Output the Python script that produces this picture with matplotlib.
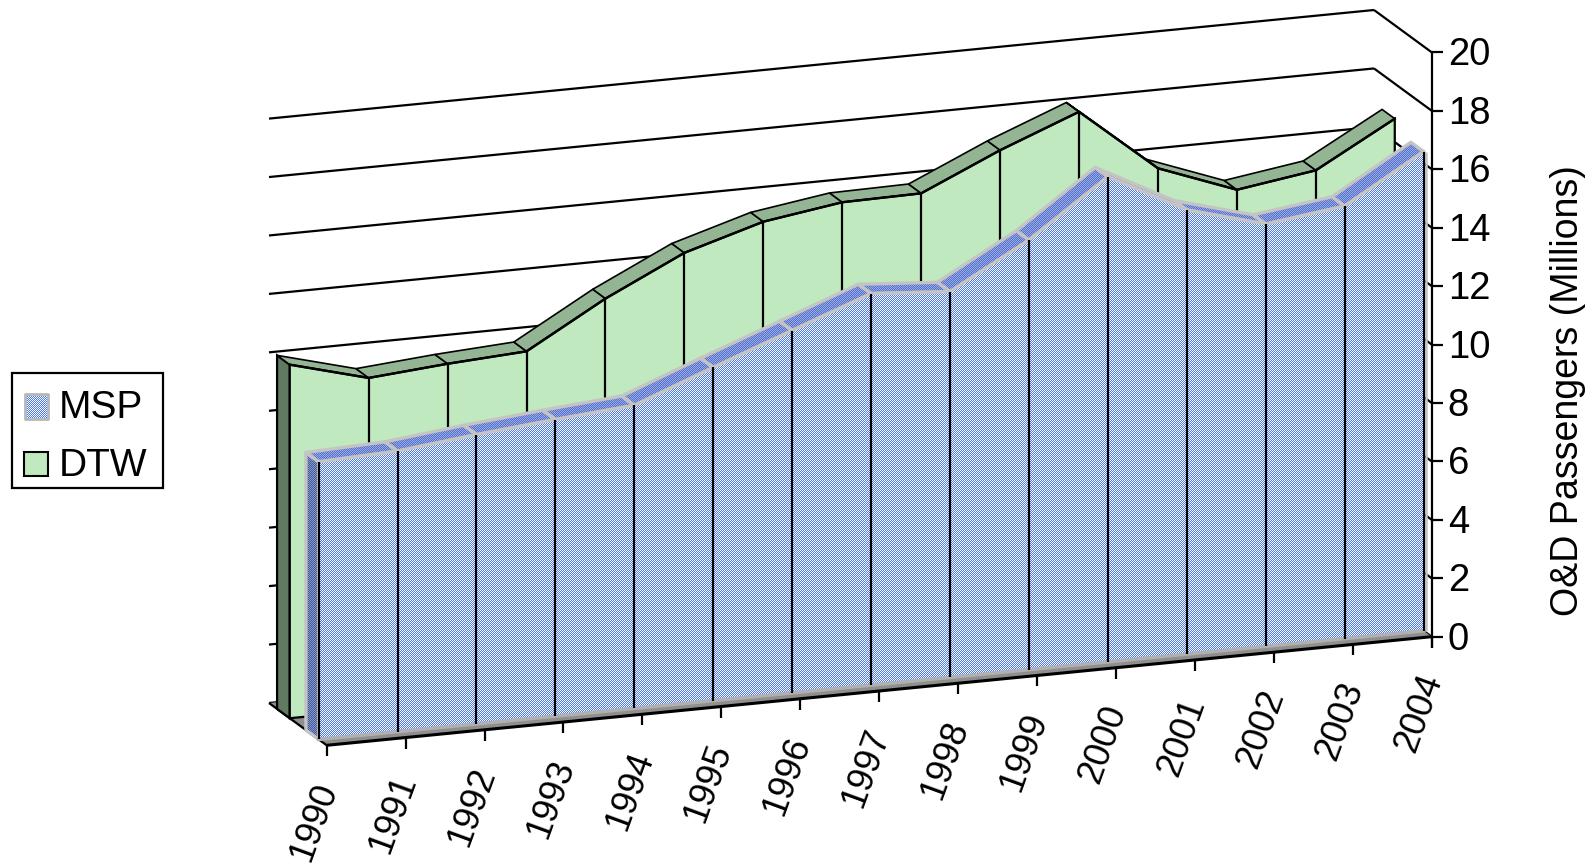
import numpy as np
import matplotlib
matplotlib.use("Agg")
import matplotlib.pyplot as plt
from matplotlib.patches import Polygon, Rectangle

plt.rcParams['font.family'] = ['Liberation Sans', 'DejaVu Sans']

years = [1990, 1991, 1992, 1993, 1994, 1995, 1996, 1997, 1998, 1999, 2000, 2001, 2002, 2003, 2004]
msp = [9.5, 9.6, 9.9, 10.15, 10.37, 11.4, 12.4, 13.4, 13.2, 14.7, 16.6, 15.2, 14.45, 14.8, 16.4]
dtw = [12.1, 11.38, 11.6, 11.76, 13.3, 14.6, 15.4, 15.8, 15.84, 17.05, 18.1, 15.9, 14.9, 15.3, 16.8]
y_ticks = [0, 2, 4, 6, 8, 10, 12, 14, 16, 18, 20]
series_names = ['MSP', 'DTW']
y_label = 'O&D Passengers (Millions)'

W, H = 1591, 866
fig = plt.figure(figsize=(W / 100, H / 100), dpi=100, facecolor='white')
ax = fig.add_axes([0, 0, 1, 1])
ax.set_xlim(0, W)
ax.set_ylim(H, 0)
ax.axis('off')

# oblique projection of the chart box: category, value, depth (0 = front, 1 = back)
X0, Y0 = 326.7, 745.3
CX, CY = (1431.7 - 326.7) / 14, (636.7 - 745.3) / 14
UNIT = (636.7 - 52.3) / 20
DX, DY = 57.7, 42.3


def proj(i, v, d):
    return (X0 + CX * i - DX * d, Y0 + CY * i - UNIT * v - DY * d)


yy, xx = np.mgrid[0:H, 0:W]
checker = (xx + yy + 1) % 2


def hex_rgb(c):
    return np.array(matplotlib.colors.to_rgb(c))


def checker_fill(points, c1, c2, z, edge=None, lw=0):
    img = np.where(checker[..., None] == 0, hex_rgb(c1), hex_rgb(c2))
    poly = Polygon(points, closed=True, transform=ax.transData, facecolor='none', edgecolor='none')
    ax.add_patch(poly)
    im = ax.imshow(img, extent=(0, W, H, 0), interpolation='nearest', zorder=z, aspect='auto')
    im.set_clip_path(poly)
    ax.set_xlim(0, W)
    ax.set_ylim(H, 0)
    if edge:
        ax.add_patch(Polygon(points, closed=True, facecolor='none', edgecolor=edge, lw=lw, zorder=z + 0.1,
                             joinstyle='round'))


def line(p, q, lw=1.6, c='black', z=1):
    ax.plot([p[0], q[0]], [p[1], q[1]], color=c, lw=lw, zorder=z, solid_capstyle='butt')


n = len(years)
# walls: grid lines
for v in y_ticks:
    line(proj(0, v, 1), proj(n - 1, v, 1), z=1)
    line(proj(n - 1, v, 1), proj(n - 1, v, 0), z=1)

# floor
floor = [proj(0, 0, 0), proj(n - 1, 0, 0), proj(n - 1, 0, 1), proj(0, 0, 1)]
ax.add_patch(Polygon(floor, closed=True, facecolor='#8f8f8f', edgecolor='none', zorder=2))
line(proj(0, 0, 1), proj(0, 0, 0), lw=1.6, z=2.1)


def draw_dtw(vals, front, back, z):
    ax.add_patch(Polygon([proj(0, 0, front), proj(0, vals[0], front), proj(0, vals[0], back), proj(0, 0, back)],
                         closed=True, facecolor='#5f7a60', edgecolor='black', lw=1.6, zorder=z))
    for i in range(n - 1):
        ax.add_patch(Polygon([proj(i, vals[i], front), proj(i + 1, vals[i + 1], front),
                              proj(i + 1, vals[i + 1], back), proj(i, vals[i], back)],
                             closed=True, facecolor='#94b594', edgecolor='black', lw=1.2, zorder=z + i * 0.001))
    pts = [proj(0, 0, front)] + [proj(i, vals[i], front) for i in range(n)] + [proj(n - 1, 0, front)]
    ax.add_patch(Polygon(pts, closed=True, facecolor='#c0e9c0', edgecolor='black', lw=1.6, zorder=z + 0.5))
    for i in range(1, n - 1):
        line(proj(i, vals[i], front), proj(i, 0, front), z=z + 0.6)
    ax.plot(*zip(*[proj(i, vals[i], front) for i in range(n)]), color='black', lw=1.7, zorder=z + 0.7)


def draw_msp(vals, front, back, z):
    gray = '#c4c4c4'
    checker_fill([proj(0, 0, front), proj(0, vals[0], front), proj(0, vals[0], back), proj(0, 0, back)],
                 '#3f5ba8', '#8c96b8', z, edge=gray, lw=2.4)
    for i in range(n - 1):
        checker_fill([proj(i, vals[i], front), proj(i + 1, vals[i + 1], front),
                      proj(i + 1, vals[i + 1], back), proj(i, vals[i], back)],
                     '#4f70d8', '#a0acd8', z + 0.01 * i, edge=gray, lw=2.4)
    pts = [proj(0, 0, front)] + [proj(i, vals[i], front) for i in range(n)] + [proj(n - 1, 0, front)]
    checker_fill(pts, '#4878f0', '#ffffff', z + 0.5)
    ax.plot(*zip(*[proj(i, vals[i], front) for i in range(n)]), color=gray, lw=2.4, zorder=z + 0.6)
    ax.plot(*zip(*[proj(0, 0, front), proj(n - 1, 0, front)]), color='#b0b0b0', lw=2.6, zorder=z + 0.6)
    right = proj(n - 1, vals[-1], front)
    right0 = proj(n - 1, 0, front)
    line((right[0] + 2.4, right[1]), (right0[0] + 2.4, right0[1]), lw=1.8, c=gray, z=z + 0.6)
    for i in range(n):
        line(proj(i, vals[i], front), proj(i, 0, front), z=z + 0.7)


draw_dtw(dtw, 0.64, 0.86, 3)
draw_msp(msp, 0.14, 0.36, 5)

# axes
line(proj(0, 0, 0), proj(n - 1, 0, 0), lw=2.2, z=8)
right_top = proj(n - 1, 20, 0)
line(right_top, (right_top[0], proj(n - 1, 0, 0)[1] + 11), lw=1.6, z=8)
for v in y_ticks:
    p = proj(n - 1, v, 0)
    line(p, (p[0] + 11, p[1]), lw=1.6, z=8)
    ax.text(p[0] + 16, p[1] + 3, str(v), fontsize=27.5, ha='left', va='center', color='black', zorder=9)
for i, yr in enumerate(years):
    p = proj(i, 0, 0)
    line(p, (p[0], p[1] + 11), lw=1.6, z=8)
    ax.text(p[0] + 1, p[1] + 39, str(yr), fontsize=26, rotation=70, rotation_mode='anchor',
            ha='right', va='center', color='black', zorder=9)

ax.text(1568, 391, y_label, fontsize=27, rotation=90, ha='center', va='center', color='black', zorder=9)

# legend
ax.add_patch(Rectangle((11.7, 373.3), 151, 115, facecolor='white', edgecolor='black', lw=1.6, zorder=10))
checker_fill([(25, 394), (48, 394), (48, 419), (25, 419)], '#4878f0', '#ffffff', 11, edge='#b8b8b8', lw=2.0)
ax.add_patch(Rectangle((24, 452), 24, 24, facecolor='#c0e9c0', edgecolor='black', lw=1.5, zorder=11))
ax.text(59, 408.5, series_names[0], fontsize=28, ha='left', va='center', zorder=12)
ax.text(59, 466.5, series_names[1], fontsize=28, ha='left', va='center', zorder=12)

fig.savefig('out.png', dpi=100)
